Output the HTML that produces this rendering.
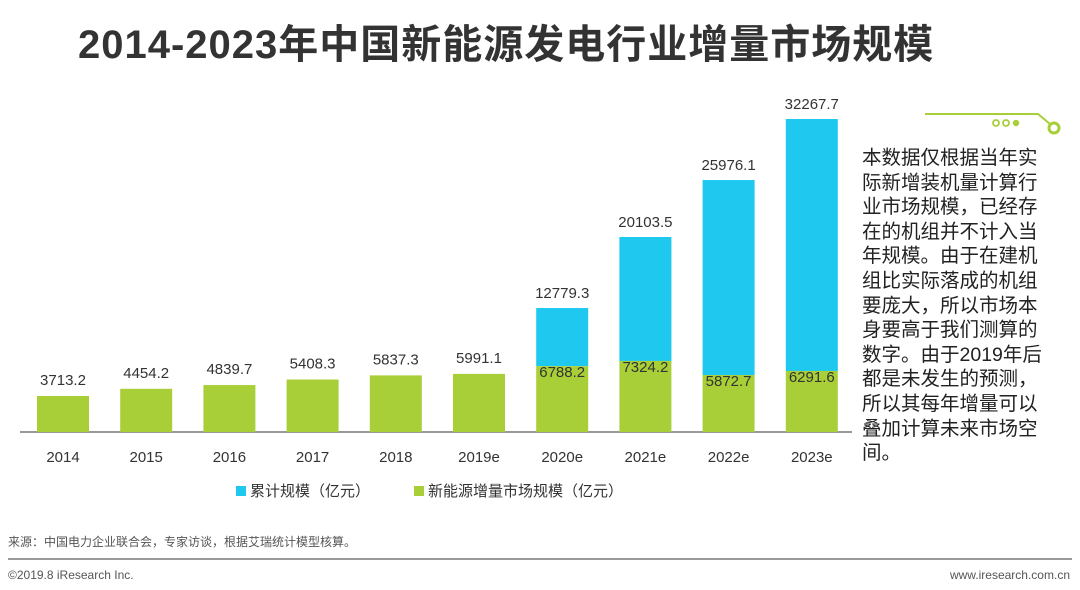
<!DOCTYPE html>
<html><head><meta charset="utf-8"><style>
body{margin:0;width:1080px;height:590px;background:#fff;overflow:hidden;font-family:"Liberation Sans","Noto Sans CJK SC",sans-serif;position:relative}
#title{position:absolute;left:78px;top:12px;font-size:40px;font-weight:bold;color:#333;letter-spacing:1px;white-space:nowrap}
#note{position:absolute;left:862px;top:146px;width:182px;font-size:19.5px;line-height:24.6px;color:#222;word-break:break-all}
.src{position:absolute;font-size:12px;color:#555}
</style></head><body>
<div id="title">2014-2023年中国新能源发电行业增量市场规模</div>
<svg id="chart" width="1080" height="590" style="position:absolute;left:0;top:0">
<g>
<polyline points="925,114 1038,114 1050,124" fill="none" stroke="#a8cf38" stroke-width="2"/>
<circle cx="996" cy="123" r="3" fill="none" stroke="#a8cf38" stroke-width="1.8"/>
<circle cx="1006" cy="123" r="3" fill="none" stroke="#a8cf38" stroke-width="1.8"/>
<circle cx="1016" cy="123" r="3.2" fill="#a8cf38"/>
<circle cx="1054" cy="128" r="5" fill="none" stroke="#a8cf38" stroke-width="3"/>
</g>
<line x1="20" y1="432" x2="852" y2="432" stroke="#333" stroke-width="1"/>
<g id="bars"></g>
<g>
<rect x="236" y="486" width="10" height="10" fill="#1ec8ef"/>
<text x="250" y="496" font-size="15" fill="#333">累计规模（亿元）</text>
<rect x="414" y="486" width="10" height="10" fill="#a9cf38"/>
<text x="428" y="496" font-size="15" fill="#333">新能源增量市场规模（亿元）</text>
</g>
<line x1="8" y1="559" x2="1072" y2="559" stroke="#999" stroke-width="2"/>
</svg>
<div id="note">本数据仅根据当年实际新增装机量计算行业市场规模，已经存在的机组并不计入当年规模。由于在建机组比实际落成的机组要庞大，所以市场本身要高于我们测算的数字。由于2019年后都是未发生的预测，所以其每年增量可以叠加计算未来市场空间。</div>
<div class="src" style="left:8px;top:533px">来源：中国电力企业联合会，专家访谈，根据艾瑞统计模型核算。</div>
<div class="src" style="left:8px;top:568px">©2019.8 iResearch Inc.</div>
<div class="src" style="right:10px;top:568px">www.iresearch.com.cn</div>
<script>
const categories=["2014","2015","2016","2017","2018","2019e","2020e","2021e","2022e","2023e"];
const increment=[3713.2,4454.2,4839.7,5408.3,5837.3,5991.1,6788.2,7324.2,5872.7,6291.6];
const cumulative=[null,null,null,null,null,null,12779.3,20103.5,25976.1,32267.7];
const NS="http://www.w3.org/2000/svg";
const base=432,k=313/32267.7;
function xc(i){return 63+i*83.2;}
function y(v){return base-v*k;}
const g=document.getElementById('bars');
function mk(t,a){const e=document.createElementNS(NS,t);for(const n in a)e.setAttribute(n,a[n]);g.appendChild(e);return e;}
categories.forEach((c,i)=>{
 const w=52,x=xc(i)-w/2;
 if(cumulative[i]!=null){
  const b=mk('rect',{x:x,y:y(cumulative[i]),width:w,height:y(increment[i])-y(cumulative[i]),fill:'#1ec8ef'});
  
  
  const t=mk('text',{x:xc(i),y:y(cumulative[i])-10,'text-anchor':'middle','font-size':15,fill:'#333'});
  t.textContent=cumulative[i].toFixed(1);
  
  
 }
 const r=mk('rect',{x:x,y:y(increment[i]),width:w,height:base-y(increment[i]),fill:'#a9cf38'});
 
 
 const inside=cumulative[i]!=null;
 const t2=mk('text',{x:xc(i),y:inside?y(increment[i])+11:y(increment[i])-11,'text-anchor':'middle','font-size':15,fill:'#333'});
 t2.textContent=increment[i].toFixed(1);
 
 
 const tl=mk('text',{x:xc(i),y:462,'text-anchor':'middle','font-size':15,fill:'#333'});
 tl.textContent=c;
 
 
});
</script>
</body></html>
